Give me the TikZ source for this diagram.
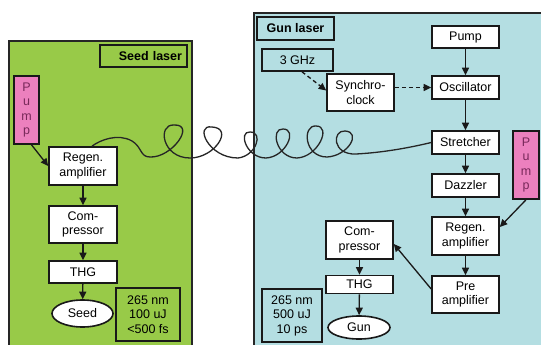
\documentclass[tikz,border=0pt]{standalone}
\usepackage{fontspec}
\setmainfont{Liberation Sans}
\usetikzlibrary{arrows.meta,shapes.geometric}
\definecolor{seedgreen}{RGB}{152,202,72}
\definecolor{gunblue}{RGB}{180,222,226}
\definecolor{pumppink}{RGB}{236,128,190}
\definecolor{pumptext}{RGB}{120,40,90}
\tikzset{
  panel/.style={draw=black!85, line width=1.3pt},
  box/.style={draw=black!90, fill=white, line width=1.6pt, align=center, inner sep=1pt,
    font=\fontsize{12.5}{14.5}\selectfont},
  tag/.style={box, font=\fontsize{12.5}{14.5}\selectfont\bfseries},
  info/.style={draw=black!90, line width=1.6pt, align=center, inner sep=1pt,
    font=\fontsize{12.5}{14.5}\selectfont},
  pumpbox/.style={draw=black!90, fill=pumppink, line width=1.6pt, align=center, inner sep=1pt,
    text=pumptext, font=\fontsize{12.5}{14.5}\selectfont},
  oval/.style={box, ellipse},
  flow/.style={-{Triangle[length=7.5pt,width=7pt]}, line width=1.3pt, black!90},
  sync/.style={flow, dash pattern=on 4pt off 3pt},
  fiber/.style={line width=1.3pt, black!85}
}
\begin{document}
\begin{tikzpicture}[x=1pt,y=-1pt]
\useasboundingbox (0,0) rectangle (541,345);
\clip (0,0) rectangle (541,345);
\fill[white] (0,0) rectangle (541,345);

% laser panels
\filldraw[panel, fill=seedgreen] (9,41) rectangle (192,360);
\filldraw[panel, fill=gunblue] (254,13) rectangle (560,360);

% ---- seed laser ----
\node[tag, fill=seedgreen, minimum width=87pt, minimum height=22pt, text width=77pt, align=right] (seedtag) at (143.5,56) {Seed laser};
\node[pumpbox, minimum width=25pt, minimum height=68pt] (lpump) at (26.5,110) {P\\u\\m\\p};
\node[box, minimum width=68pt, minimum height=38pt] (lregen) at (83,166) {Regen.\\amplifier};
\node[box, minimum width=68pt, minimum height=37pt] (lcomp) at (83,224.5) {Com-\\pressor};
\node[box, minimum width=68pt, minimum height=22pt] (lthg) at (83,272) {THG};
\node[oval, minimum width=61pt, minimum height=27pt] (seed) at (82.5,313.5) {Seed};
\node[info, minimum width=64pt, minimum height=53pt] (linfo) at (148,314.5) {265 nm\\100 uJ\\<500 fs};

\draw[flow] ([xshift=5pt]lpump.south) -- (lregen.west);
\draw[flow] (lregen) -- (lcomp);
\draw[flow] (lcomp) -- (lthg);
\draw[flow] (lthg) -- (seed);

% ---- gun laser ----
\node[tag, fill=gunblue, minimum width=77pt, minimum height=23pt] (guntag) at (295.5,28.5) {Gun laser};
\node[box, fill=gunblue, minimum width=71pt, minimum height=22pt] (ghz) at (297.5,60) {3 GHz};
\node[box, minimum width=67pt, minimum height=37pt] (clock) at (360.5,92.5) {Synchro-\\clock};
\node[box, minimum width=67pt, minimum height=22pt] (pump) at (465.5,37) {Pump};
\node[box, minimum width=67pt, minimum height=23pt] (osc) at (465.5,87.5) {Oscillator};
\node[box, minimum width=67pt, minimum height=23pt] (stretch) at (465.5,142.5) {Stretcher};
\node[box, minimum width=67pt, minimum height=23pt] (dazz) at (465.5,185.5) {Dazzler};
\node[box, minimum width=67pt, minimum height=38pt] (rregen) at (465.5,236) {Regen.\\amplifier};
\node[box, minimum width=67pt, minimum height=37pt] (pre) at (465.5,294.5) {Pre\\amplifier};
\node[pumpbox, minimum width=26pt, minimum height=68pt] (rpump) at (526,165) {P\\u\\m\\p};
\node[box, minimum width=67pt, minimum height=38pt] (rcomp) at (359.5,240) {Com-\\pressor};
\node[box, minimum width=67pt, minimum height=18pt] (rthg) at (359.5,284.5) {THG};
\node[oval, minimum width=62pt, minimum height=23pt] (gun) at (359,327.5) {Gun};
\node[info, minimum width=60pt, minimum height=53pt] (rinfo) at (292,315.5) {265 nm\\500 uJ\\10 ps};

\draw[sync] ([xshift=4.5pt]ghz.south) -- ([yshift=2pt]clock.west);
\draw[sync] (clock.east |- osc.west) -- (osc.west);
\draw[flow] (pump) -- (osc);
\draw[flow] (osc) -- (stretch);
\draw[flow] (stretch) -- (dazz);
\draw[flow] (dazz) -- (rregen);
\draw[flow] (rregen) -- (pre);
\draw[flow] (rpump.south) -- ([yshift=9pt]rregen.east);
\draw[flow] ([yshift=5.5pt]pre.west) -- ([yshift=-4pt]rcomp.east);
\draw[flow] (rcomp) -- (rthg);
\draw[flow] (rthg) -- (gun);

% coiled fibre from the seed amplifier to the stretcher, one curl per loop
\draw[fiber] ([xshift=9pt]lregen.north)
  .. controls (100,140) and (118,133) .. (132,141)
  .. controls (142,147) and (140,157) .. (150,157)
  .. controls (172,158) and (196,124) .. (174,125)
  .. controls (157,124) and (162,158) .. (190,158)
  .. controls (215,158) and (234,128) .. (212,127)
  .. controls (194,124) and (208,158) .. (238,158)
  .. controls (256,156) and (264,132) .. (250,132)
  .. controls (238,131) and (246,158) .. (266,158)
  .. controls (286,157) and (298,129) .. (283,129)
  .. controls (270,128) and (276,158) .. (297,158)
  .. controls (318,157) and (332,126) .. (316,126)
  .. controls (302,125) and (304,157) .. (327,157)
  .. controls (348,156) and (362,132) .. (345,131)
  .. controls (332,130) and (332,155) .. (356,154)
  .. controls (375,153) and (400,150) .. (stretch.west);
\end{tikzpicture}
\end{document}
